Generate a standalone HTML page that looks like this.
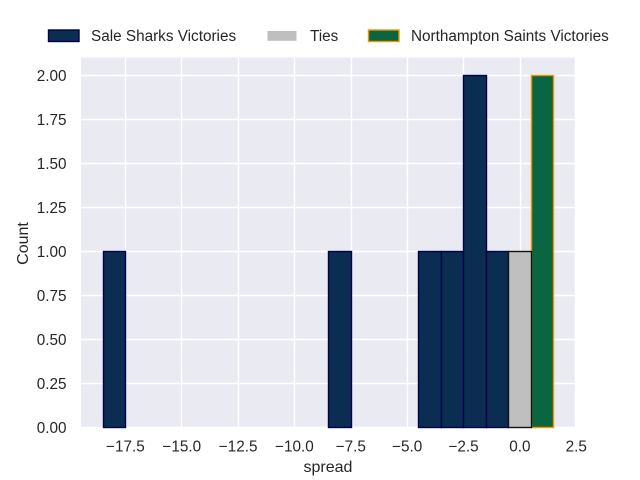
<!DOCTYPE html>
<html lang="en">
<head>
<meta charset="utf-8">
<title>Spread histogram</title>
<style>
html,body{margin:0;padding:0;background:#fff;}
svg{display:block;}
text{font-family:"Liberation Sans",Arial,sans-serif;fill:#262626;}
</style>
</head>
<body>
<svg id="chart" xmlns="http://www.w3.org/2000/svg" width="640" height="480" viewBox="0 0 640 480">
  <rect x="0" y="0" width="640" height="480" fill="#ffffff"/>
  <rect x="81" y="57.6" width="494.5" height="369.6" fill="#eaeaf2"/>
  <g id="grid"></g>
  <g id="bars"></g>
  <g id="x-ticks"></g>
  <g id="y-ticks"></g>
  <text x="328" y="472" text-anchor="middle" font-size="16">spread</text>
  <text x="0" y="0" text-anchor="middle" font-size="16" transform="translate(28 243.5) rotate(-90)">Count</text>
  <g>
    <g>
      <rect x="48.5" y="30" width="30.5" height="11.5" fill="#0c2d52" stroke="#00004d" stroke-width="1.4"/>
      <text x="91" y="41" font-size="15.3">Sale Sharks Victories</text>
    </g>
    <g>
      <rect x="267.5" y="31" width="29" height="9.8" fill="#bfbfbf"/>
      <text x="310" y="41" font-size="15.3">Ties</text>
    </g>
    <g>
      <rect x="368.5" y="30" width="30.5" height="11.5" fill="#0a6640" stroke="#f29400" stroke-width="1.4"/>
      <text x="411" y="41" font-size="15.3">Northampton Saints Victories</text>
    </g>
  </g>
</svg>
<script>
const saleBinStarts = [-18.5, -8.5, -4.5, -3.5, -2.5, -1.5];
const saleCounts = [1, 1, 1, 1, 2, 1];
const saintsBinStarts = [0.5];
const saintsCounts = [2];
const tieBinStarts = [-0.5];
const tieCounts = [1];
const binWidth = 1;
const xTicks = [-17.5, -15, -12.5, -10, -7.5, -5, -2.5, 0, 2.5];
const yTicks = [0, 0.25, 0.5, 0.75, 1, 1.25, 1.5, 1.75, 2];
const xMin = -19.5, xMax = 2.5, yMin = 0, yMax = 2.1;

const SVG_NS = 'http://www.w3.org/2000/svg';
const plot = {left: 80, right: 576, top: 57.6, bottom: 427.2};
function xScale(v) {
  return plot.left + (v - xMin) / (xMax - xMin) * (plot.right - plot.left);
}
function yScale(v) {
  return plot.bottom - (v - yMin) / (yMax - yMin) * (plot.bottom - plot.top);
}
function snap(p) {
  return Math.round(p) + 0.5;
}
function make(tag, attrs, parent) {
  const el = document.createElementNS(SVG_NS, tag);
  for (const k in attrs) el.setAttribute(k, attrs[k]);
  parent.appendChild(el);
  return el;
}
function formatX(v) {
  return (v < 0 ? '\u2212' : '') + Math.abs(v).toFixed(1);
}

const grid = document.getElementById('grid');
const xTickGroup = document.getElementById('x-ticks');
const yTickGroup = document.getElementById('y-ticks');
const barGroup = document.getElementById('bars');

xTicks.forEach(function (t) {
  const gx = Math.min(snap(xScale(t)), 575.5);
  const line = make('line', {x1: gx, x2: gx, y1: plot.top, y2: plot.bottom, stroke: '#ffffff', 'stroke-width': 1.4}, grid);
  
  
  const label = make('text', {x: xScale(t) + 0.3, y: 451.5, 'text-anchor': 'middle', 'font-size': 15.3}, xTickGroup);
  label.textContent = formatX(t);
  
  
});

yTicks.forEach(function (t) {
  const gy = snap(yScale(t));
  const line = make('line', {x1: plot.left + 1, x2: plot.right - 0.5, y1: gy, y2: gy, stroke: '#ffffff', 'stroke-width': 1.4}, grid);
  
  
  const label = make('text', {x: 66.5, y: yScale(t) + 5.8, 'text-anchor': 'end', 'font-size': 15.3}, yTickGroup);
  label.textContent = t.toFixed(2);
  
  
});

function drawSeries(starts, counts, fill, edge, name) {
  starts.forEach(function (s, i) {
    const x0 = snap(xScale(s)), x1 = snap(xScale(s + binWidth));
    const y1 = snap(yScale(counts[i])), y0 = snap(yScale(0));
    const bar = make('rect', {x: x0, y: y1, width: x1 - x0, height: y0 - y1, fill: fill, stroke: edge, 'stroke-width': 1.4}, barGroup);
    
    
  });
}
drawSeries(saleBinStarts, saleCounts, '#0c2d52', '#00004d', 'bar-sale-sharks');
drawSeries(saintsBinStarts, saintsCounts, '#0a6640', '#f29400', 'bar-northampton-saints');
drawSeries(tieBinStarts, tieCounts, '#bfbfbf', '#111111', 'bar-ties');
</script>
</body>
</html>
